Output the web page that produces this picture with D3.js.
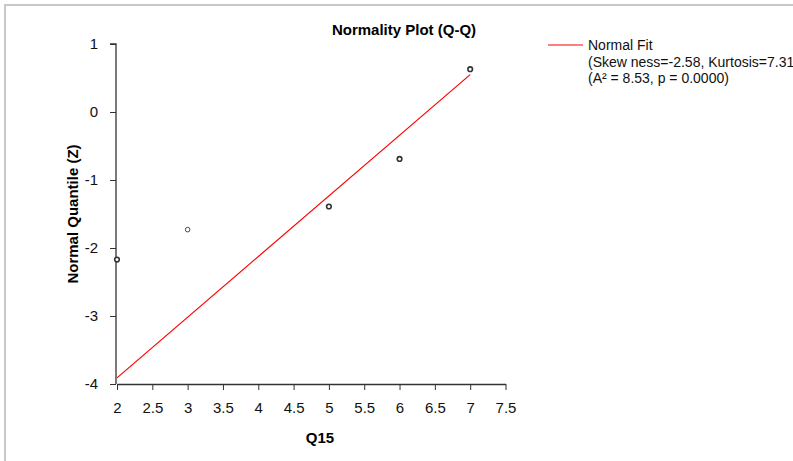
<!DOCTYPE html>
<html><head><meta charset="utf-8">
<script src="https://cdn.jsdelivr.net/npm/d3@7"></script>
<style>body{margin:0;background:#fff}svg{display:block;font-family:"Liberation Sans",Arial,sans-serif}</style>
</head><body>
<script>
const pointX = [2, 3, 5, 6, 7];
const pointZ = [-2.17, -1.73, -1.39, -0.69, 0.63];
const pointCount = [2, 1, 2, 2, 2];
const fitX = [2, 7];
const fitZ = [-3.91, 0.55];
const xTicks = [2, 2.5, 3, 3.5, 4, 4.5, 5, 5.5, 6, 6.5, 7, 7.5];
const yTicks = [1, 0, -1, -2, -3, -4];
const legendLines = ["Normal Fit", "(Skew ness=-2.58, Kurtosis=7.31", "(A\u00B2 = 8.53, p = 0.0000)"];

const W = 793, H = 461;
const svg = d3.select("body").append("svg").attr("width", W).attr("height", H);
svg.append("rect").attr("x", 5).attr("y", 5).attr("width", 800).attr("height", 470)
  .attr("fill", "#fff").attr("stroke", "#c8c8c8").attr("stroke-width", 2);

const x = d3.scaleLinear().domain([2, 7.5]).range([117, 505.5]);
const y = d3.scaleLinear().domain([-4, 1]).range([384, 44]);

const xAxis = svg.append("g").attr("transform", "translate(0,384)")
  .call(d3.axisBottom(x).tickValues(xTicks).tickFormat(d => String(d)).tickSize(6).tickSizeOuter(0).tickPadding(12));
const yAxis = svg.append("g").attr("transform", "translate(116,0)")
  .call(d3.axisLeft(y).tickValues(yTicks).tickFormat(d => String(d)).tickSize(6).tickSizeOuter(0).tickPadding(6));
[xAxis, yAxis].forEach(g => {
  g.attr("font-size", 15).attr("font-family", '"Liberation Sans",Arial,sans-serif');
  g.select(".domain").attr("stroke", "#333").attr("stroke-width", 1.3);
  g.selectAll(".tick line").attr("stroke", "#333");
  g.selectAll("text").attr("font-size", 15).attr("fill", "#111");
});
yAxis.selectAll("text").attr("dx", -6);
yAxis.select(".domain").attr("d", "M-6,44H0V384");

svg.append("line")
  .attr("x1", x(fitX[0])).attr("y1", y(fitZ[0]))
  .attr("x2", x(fitX[1])).attr("y2", y(fitZ[1]))
  .attr("stroke", "#ff0000").attr("stroke-width", 1.2);

const pts = pointX.map((v, i) => ({x: v, z: pointZ[i], n: pointCount[i]}));
svg.append("g").selectAll("circle").data(pts).join("circle")
  .attr("cx", d => x(d.x)).attr("cy", d => y(d.z)).attr("r", 2.3)
  .attr("fill", "#fff").attr("stroke", "#333")
  .attr("stroke-width", d => d.n > 1 ? 1.6 : 0.9);

svg.append("text").attr("x", 404).attr("y", 35).attr("text-anchor", "middle")
  .attr("font-size", 15).attr("font-weight", "bold").text("Normality Plot (Q-Q)");
svg.append("text").attr("x", 320).attr("y", 443).attr("text-anchor", "middle")
  .attr("font-size", 15).attr("font-weight", "bold").text("Q15");
svg.append("text").attr("transform", "translate(78,214) rotate(-90)").attr("text-anchor", "middle")
  .attr("font-size", 15).attr("font-weight", "bold").text("Normal Quantile (Z)");

svg.append("line").attr("x1", 548).attr("x2", 583).attr("y1", 45).attr("y2", 45)
  .attr("stroke", "#ff0000").attr("stroke-width", 1.2);
svg.append("g").selectAll("text").data(legendLines).join("text")
  .attr("x", 588).attr("y", (d, i) => 50 + i * 16.5)
  .attr("font-size", 14).attr("fill", "#111").text(d => d);
</script>
</body></html>
